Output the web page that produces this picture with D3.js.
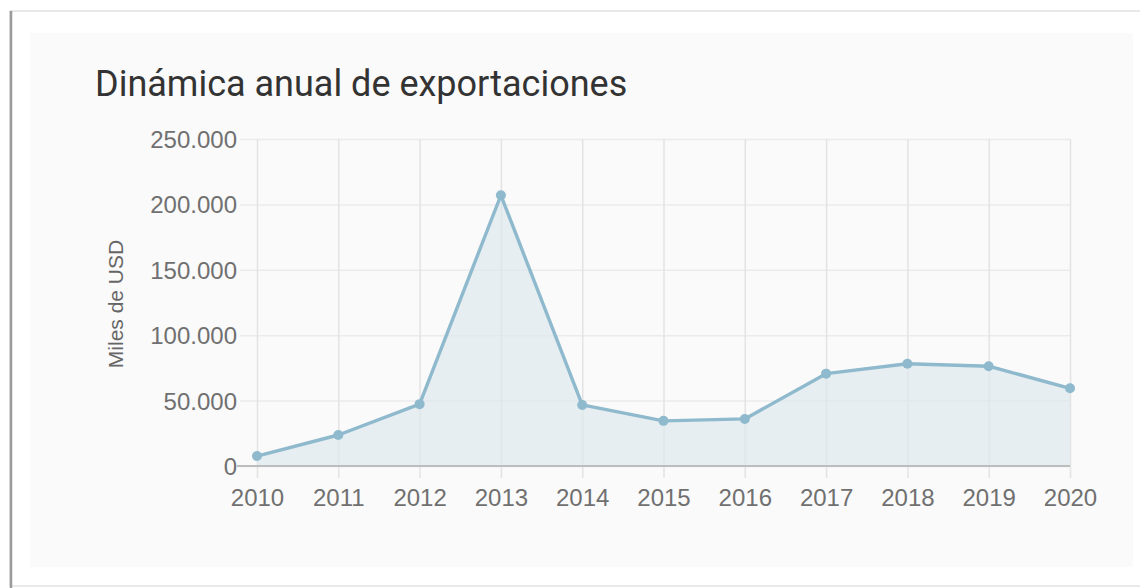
<!DOCTYPE html>
<html>
<head>
<meta charset="utf-8">
<script src="https://cdn.jsdelivr.net/npm/d3@7"></script>
<style>
  html, body { margin: 0; padding: 0; background: #ffffff; }
  svg { display: block; }
</style>
</head>
<body>
<svg id="chart" width="1140" height="588"></svg>
<script>
// Annual export values, thousands of USD
const years = ["2010", "2011", "2012", "2013", "2014", "2015", "2016", "2017", "2018", "2019", "2020"];
const exportsValues = [7600, 23700, 47300, 207000, 46700, 34500, 36000, 70600, 78200, 76300, 59400];
const yTicks = [0, 50000, 100000, 150000, 200000, 250000];
const chartTitle = "Dinámica anual de exportaciones";
const yAxisTitle = "Miles de USD";

const svg = d3.select("#chart");

// card frame and panel
svg.append("rect").attr("x", 10).attr("y", 11).attr("width", 1140).attr("height", 575)
  .attr("fill", "#ffffff").attr("stroke", "#e2e2e2").attr("stroke-width", 1.5);
svg.append("line").attr("x1", 11).attr("x2", 11).attr("y1", 11).attr("y2", 588)
  .attr("stroke", "#9a9a9a").attr("stroke-width", 2.5);
svg.append("rect").attr("x", 30).attr("y", 33).attr("width", 1103).attr("height", 534)
  .attr("fill", "#fafafa");

const esLocale = d3.formatLocale({ decimal: ",", thousands: ".", grouping: [3], currency: ["", "$"] });
const fmt = esLocale.format(",d");

const x = d3.scalePoint().domain(years).range([257, 1070]);
const y = d3.scaleLinear().domain([0, 250000]).range([466, 139]);

const font = "'Liberation Sans', Arial, sans-serif";

// horizontal grid with y tick labels
const yAxis = d3.axisLeft(y).tickValues(yTicks).tickFormat(fmt)
  .tickSize(-(1070 - 257)).tickPadding(20);
const gY = svg.append("g").attr("transform", "translate(257,0)").call(yAxis);
gY.select(".domain").remove();
gY.selectAll(".tick line").attr("stroke", "#ebebeb").attr("stroke-width", 1.5)
  .attr("x1", -17);
gY.selectAll(".tick text").attr("fill", "#707070").attr("font-family", font)
  .attr("font-size", 24).attr("dy", "0.35em");

// vertical grid with year labels
const xAxis = d3.axisBottom(x).tickSize(-(466 - 139)).tickPadding(23);
const gX = svg.append("g").attr("transform", "translate(0,466)").call(xAxis);
gX.select(".domain").remove();
gX.selectAll(".tick line").attr("stroke", "#e3e3e3").attr("stroke-width", 1.5)
  .attr("y2", 12).attr("y1", -(466 - 139));
gX.selectAll(".tick text").attr("fill", "#707070").attr("font-family", font)
  .attr("font-size", 24).attr("dy", "0.71em");

// area, line, points
const pts = years.map((yr, i) => ({ yr, v: exportsValues[i] }));
const area = d3.area().x(d => x(d.yr)).y0(y(0)).y1(d => y(d.v));
const line = d3.line().x(d => x(d.yr)).y(d => y(d.v));

svg.append("path").datum(pts).attr("d", area).attr("fill", "#dde8ee").attr("fill-opacity", 0.7);

// baseline
svg.append("line").attr("x1", 237).attr("x2", 1070).attr("y1", y(0)).attr("y2", y(0))
  .attr("stroke", "#bdbdbd").attr("stroke-width", 2);

svg.append("path").datum(pts).attr("d", line).attr("fill", "none")
  .attr("stroke", "#8fb9cc").attr("stroke-width", 3.4).attr("stroke-linejoin", "round");
svg.append("g").selectAll("circle").data(pts).join("circle")
  .attr("cx", d => x(d.yr)).attr("cy", d => y(d.v)).attr("r", 5)
  .attr("fill", "#8fb9cc");

// titles
svg.append("text").attr("x", 95).attr("y", 96).text(chartTitle)
  .attr("font-family", "Roboto, sans-serif").attr("font-size", 36).attr("fill", "#333333");
svg.append("text").attr("transform", "translate(123,304) rotate(-90)")
  .attr("text-anchor", "middle").text(yAxisTitle)
  .attr("font-family", font).attr("font-size", 21).attr("fill", "#666666");
</script>
</body>
</html>
